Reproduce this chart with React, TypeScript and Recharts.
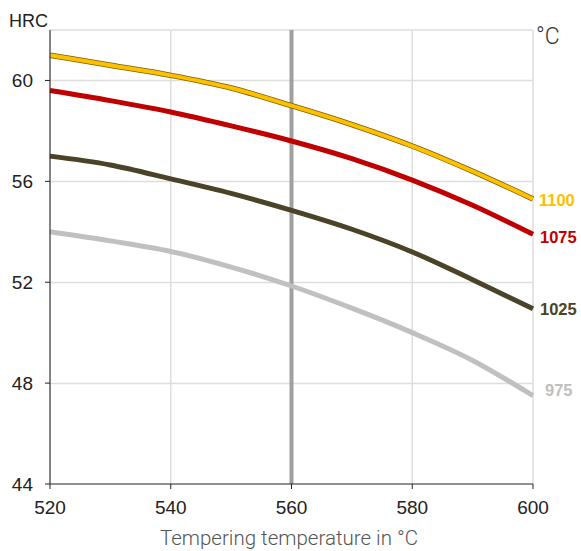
import { LineChart, Line, XAxis, YAxis, CartesianGrid, ReferenceLine } from "recharts";

const temps = [520, 530, 540, 550, 560, 570, 580, 590, 600];
const hrc1100 = [61.0, 60.6, 60.2, 59.7, 59.0, 58.25, 57.4, 56.4, 55.3];
const hrc1075 = [59.6, 59.2, 58.75, 58.2, 57.6, 56.9, 56.05, 55.05, 53.9];
const hrc1025 = [57.0, 56.65, 56.1, 55.52, 54.85, 54.1, 53.2, 52.1, 50.95];
const hrc975 = [54.0, 53.64, 53.22, 52.6, 51.85, 50.97, 50.0, 48.9, 47.5];

const xTicks = [520, 540, 560, 580, 600];
const yTicks = [44, 48, 52, 56, 60];

const data = temps.map((t, i) => ({
  t,
  h1100: hrc1100[i],
  h1075: hrc1075[i],
  h1025: hrc1025[i],
  h975: hrc975[i],
}));

const font = "Liberation Sans, Arial, sans-serif";

const endLabel = (text: string, color: string, dx: number, dy: number) => (props: any) => {
  if (props.index !== temps.length - 1) return null;
  return (
    <text
      x={props.x + dx}
      y={props.y + dy}
      fill={color}
      fontSize={16.5}
      fontWeight="bold"
      fontFamily={font}
      dominantBaseline="middle"
    >
      {text}
    </text>
  );
};

export default function App() {
  return (
    <div style={{ position: "absolute", left: 0, top: 0, width: 581, height: 551, background: "#fff" }}>
      <LineChart
        width={581}
        height={551}
        data={data}
        margin={{ top: 30, right: 48, bottom: 0, left: 0 }}
      >
        <CartesianGrid stroke="#DDDDDD" strokeWidth={1.5} horizontalPoints={[30, 80.5, 181.5, 282.5, 383.5]} />
        <XAxis
          dataKey="t"
          type="number"
          domain={[520, 600]}
          ticks={xTicks}
          height={67}
          tickSize={5}
          tickMargin={12}
          stroke="#222"
          tick={{ fill: "#222", fontSize: 19, fontFamily: font }}
        />
        <YAxis
          type="number"
          domain={[44, 62]}
          ticks={yTicks}
          width={50}
          tickSize={5}
          tickMargin={12}
          stroke="#222"
          tick={{ fill: "#222", fontSize: 19, fontFamily: font }}
        />
        <ReferenceLine x={560} stroke="#A0A0A0" strokeWidth={4} />
        <Line dataKey="h975" type="monotone" stroke="#C0C0C0" strokeWidth={5} dot={false} isAnimationActive={false} label={endLabel("975", "#BFBFBF", 12, -4)} />
        <Line dataKey="h1025" type="monotone" stroke="#4A4328" strokeWidth={5} dot={false} isAnimationActive={false} label={endLabel("1025", "#4A4328", 7, 2)} />
        <Line dataKey="h1075" type="monotone" stroke="#C00000" strokeWidth={5} dot={false} isAnimationActive={false} label={endLabel("1075", "#C00000", 7, 4)} />
        <Line dataKey="h1100" type="monotone" stroke="#7A5C00" strokeWidth={5.5} dot={false} isAnimationActive={false} />
        <Line dataKey="h1100" type="monotone" stroke="#FFC000" strokeWidth={4} dot={false} isAnimationActive={false} label={endLabel("1100", "#FFC000", 6, 3)} />
        <text x={9} y={27} fontSize={18} fill="#222" fontFamily={font}>HRC</text>
        <text x={536} y={44} fontSize={23} fill="#333" fontWeight={300} fontFamily="Roboto, sans-serif">°C</text>
        <text x={289} y={545} fontSize={20.5} fill="#555" fontWeight={300} textAnchor="middle" fontFamily="Roboto, sans-serif">Tempering temperature in °C</text>
      </LineChart>
    </div>
  );
}
